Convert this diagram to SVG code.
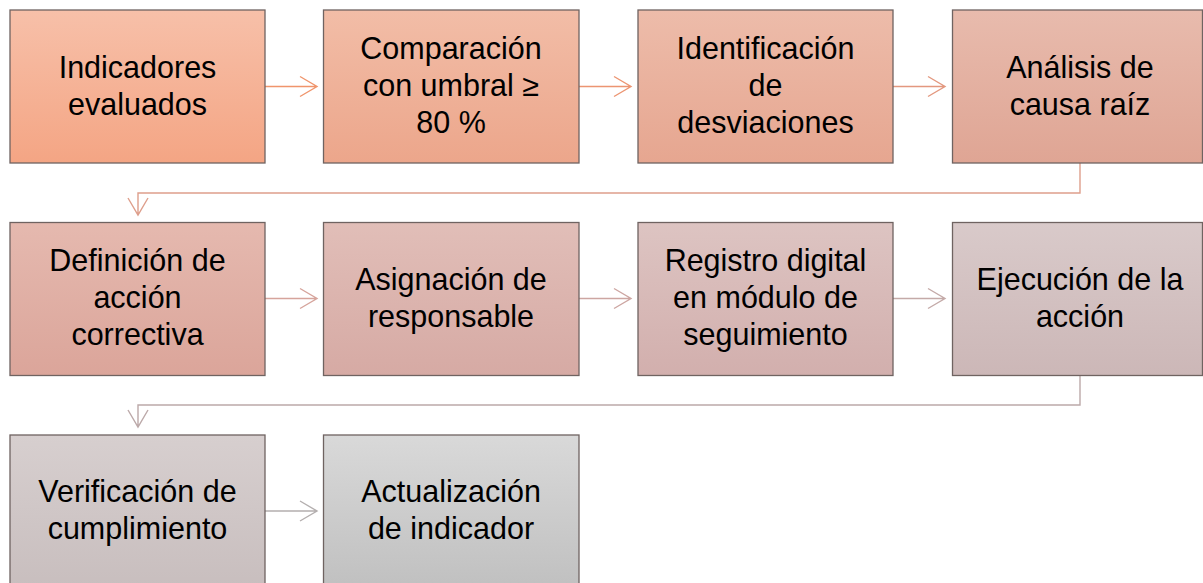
<svg xmlns="http://www.w3.org/2000/svg" width="1203" height="583" viewBox="0 0 1203 583">
<defs>
<linearGradient id="g1" x1="0" y1="0" x2="0" y2="1"><stop offset="0" stop-color="#F7C0A9"/><stop offset="1" stop-color="#F4A584"/></linearGradient>
<linearGradient id="g2" x1="0" y1="0" x2="0" y2="1"><stop offset="0" stop-color="#F2BDA7"/><stop offset="1" stop-color="#ECA68B"/></linearGradient>
<linearGradient id="g3" x1="0" y1="0" x2="0" y2="1"><stop offset="0" stop-color="#EDBCAA"/><stop offset="1" stop-color="#E6A690"/></linearGradient>
<linearGradient id="g4" x1="0" y1="0" x2="0" y2="1"><stop offset="0" stop-color="#E8BBAD"/><stop offset="1" stop-color="#DFA594"/></linearGradient>
<linearGradient id="g5" x1="0" y1="0" x2="0" y2="1"><stop offset="0" stop-color="#E5B9AF"/><stop offset="1" stop-color="#DBA59A"/></linearGradient>
<linearGradient id="g6" x1="0" y1="0" x2="0" y2="1"><stop offset="0" stop-color="#E1BEB8"/><stop offset="1" stop-color="#D6AAA4"/></linearGradient>
<linearGradient id="g7" x1="0" y1="0" x2="0" y2="1"><stop offset="0" stop-color="#DDC4C2"/><stop offset="1" stop-color="#D2AFAD"/></linearGradient>
<linearGradient id="g8" x1="0" y1="0" x2="0" y2="1"><stop offset="0" stop-color="#D9CACA"/><stop offset="1" stop-color="#CCB7B7"/></linearGradient>
<linearGradient id="g9" x1="0" y1="0" x2="0" y2="1"><stop offset="0" stop-color="#D7CFCF"/><stop offset="1" stop-color="#C8BEBE"/></linearGradient>
<linearGradient id="g10" x1="0" y1="0" x2="0" y2="1"><stop offset="0" stop-color="#D9D9D9"/><stop offset="1" stop-color="#C0C0C0"/></linearGradient>
</defs>
<style>
.box{stroke:#6F6361;stroke-width:1.3}
.t{font-family:"Liberation Sans",Arial,sans-serif;font-size:30.5px;fill:#000;text-anchor:middle}
.c{fill:none;stroke-width:1.4}
</style>
<rect width="1203" height="583" fill="#FFFFFF"/>
<g id="connectors">
<path class="c" stroke="#F0956C" d="M265,86.5 H317 M300,76.5 L317,86.5 L300,96.5"/>
<path class="c" stroke="#EC9572" d="M579,86.5 H631 M614,76.5 L631,86.5 L614,96.5"/>
<path class="c" stroke="#E3987F" d="M893,86.5 H945 M928,76.5 L945,86.5 L928,96.5"/>
<path class="c" stroke="#DE9F8C" d="M1080,163 V193 H138 V215 M128,198 L138,215 L148,198"/>
<path class="c" stroke="#D6A49C" d="M265,298.5 H317 M300,288.5 L317,298.5 L300,308.5"/>
<path class="c" stroke="#CDA6A2" d="M579,298.5 H631 M614,288.5 L631,298.5 L614,308.5"/>
<path class="c" stroke="#C4AAA8" d="M893,298.5 H945 M928,288.5 L945,298.5 L928,308.5"/>
<path class="c" stroke="#BCA9A9" d="M1080,375 V405 H138 V427 M128,410 L138,427 L148,410"/>
<path class="c" stroke="#B4AFAF" d="M265,511 H317 M300,501 L317,511 L300,521"/>
</g>
<g id="n1"><rect class="box" x="10" y="10" width="255" height="153" fill="url(#g1)"/><text class="t" x="137.5"><tspan x="137.5" y="77.5">Indicadores</tspan><tspan x="137.5" y="114.5">evaluados</tspan></text></g>
<g id="n2"><rect class="box" x="323.5" y="10" width="255.5" height="153" fill="url(#g2)"/><text class="t"><tspan x="451" y="59">Comparación</tspan><tspan x="451" y="96">con umbral ≥</tspan><tspan x="451" y="133">80 %</tspan></text></g>
<g id="n3"><rect class="box" x="638" y="10" width="255" height="153" fill="url(#g3)"/><text class="t"><tspan x="765.5" y="59">Identificación</tspan><tspan x="765.5" y="96">de</tspan><tspan x="765.5" y="133">desviaciones</tspan></text></g>
<g id="n4"><rect class="box" x="952.5" y="10" width="250" height="153" fill="url(#g4)"/><text class="t"><tspan x="1080" y="77.5">Análisis de</tspan><tspan x="1080" y="114.5">causa raíz</tspan></text></g>
<g id="n5"><rect class="box" x="10" y="222.5" width="255" height="153" fill="url(#g5)"/><text class="t"><tspan x="137.5" y="271">Definición de</tspan><tspan x="137.5" y="308">acción</tspan><tspan x="137.5" y="345">correctiva</tspan></text></g>
<g id="n6"><rect class="box" x="323.5" y="222.5" width="255.5" height="153" fill="url(#g6)"/><text class="t"><tspan x="451" y="289.5">Asignación de</tspan><tspan x="451" y="326.5">responsable</tspan></text></g>
<g id="n7"><rect class="box" x="638" y="222.5" width="255" height="153" fill="url(#g7)"/><text class="t"><tspan x="765.5" y="271">Registro digital</tspan><tspan x="765.5" y="308">en módulo de</tspan><tspan x="765.5" y="345">seguimiento</tspan></text></g>
<g id="n8"><rect class="box" x="952.5" y="222.5" width="250" height="153" fill="url(#g8)"/><text class="t"><tspan x="1080" y="289.5">Ejecución de la</tspan><tspan x="1080" y="326.5">acción</tspan></text></g>
<g id="n9"><rect class="box" x="10" y="435" width="255" height="153" fill="url(#g9)"/><text class="t"><tspan x="137.5" y="502">Verificación de</tspan><tspan x="137.5" y="539">cumplimiento</tspan></text></g>
<g id="n10"><rect class="box" x="323.5" y="435" width="255.5" height="153" fill="url(#g10)"/><text class="t"><tspan x="451" y="502">Actualización</tspan><tspan x="451" y="539">de indicador</tspan></text></g>
</svg>
